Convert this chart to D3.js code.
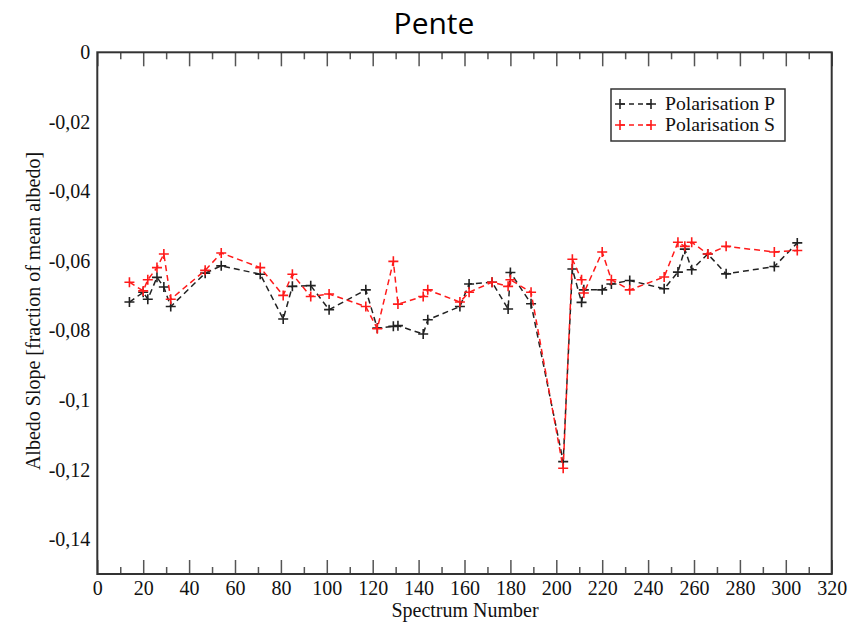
<!DOCTYPE html>
<html>
<head>
<meta charset="utf-8">
<script src="https://cdn.jsdelivr.net/npm/d3@7"></script>
<style>
  html, body { margin: 0; padding: 0; background: #fff; }
  svg { display: block; }
</style>
</head>
<body>
<svg id="chart" width="860" height="623"></svg>
<script>
// Spectrum numbers shared by both polarisations
const spectra = [14, 20, 22, 26, 29, 32, 47, 54, 71, 81, 85, 93, 101, 117, 122, 129, 131, 142, 144, 158,
                 162, 172, 179, 180, 189, 203, 207, 211, 212, 220, 224, 232, 247, 253, 256, 259, 266, 274, 295, 305];

// Albedo slope, polarisation P
const slopeP = [-0.0718, -0.0690, -0.0710, -0.0647, -0.0675, -0.0731, -0.0635, -0.0614, -0.0638, -0.0767,
                -0.0673, -0.0671, -0.0740, -0.0683, -0.0793, -0.0788, -0.0786, -0.0810, -0.0769, -0.0731,
                -0.0666, -0.0661, -0.0738, -0.0633, -0.0723, -0.1177, -0.0623, -0.0719, -0.0683, -0.0683,
                -0.0666, -0.0656, -0.0680, -0.0632, -0.0566, -0.0625, -0.0580, -0.0637, -0.0616, -0.0548];

// Albedo slope, polarisation S
const slopeS = [-0.0661, -0.0686, -0.0654, -0.0619, -0.0580, -0.0710, -0.0627, -0.0577, -0.0619, -0.0699,
                -0.0638, -0.0702, -0.0695, -0.0731, -0.0795, -0.0601, -0.0724, -0.0702, -0.0683, -0.0718,
                -0.0690, -0.0661, -0.0673, -0.0654, -0.0690, -0.1196, -0.0595, -0.0654, -0.0692, -0.0574,
                -0.0654, -0.0683, -0.0646, -0.0546, -0.0558, -0.0546, -0.0580, -0.0558, -0.0574, -0.0570];

const xMajorTicks = d3.range(0, 321, 20);
const xMinorTicks = d3.range(10, 320, 20);
const yTicks = [0, -0.02, -0.04, -0.06, -0.08, -0.1, -0.12, -0.14];

const seriesNames = ["Polarisation P", "Polarisation S"];
const seriesColors = ["#222222", "#ff1a1a"];

const svg = d3.select("#chart");
const plotLeft = 97.3, plotRight = 831.7, plotTop = 52.3, plotBottom = 574;

const x = d3.scaleLinear().domain([0, 320]).range([plotLeft, plotRight]);
const y = d3.scaleLinear().domain([-0.15, 0]).range([plotBottom, plotTop]);

const serif = "'Liberation Serif', 'DejaVu Serif', serif";
const fontSize = 20;
const fmt = v => v === 0 ? "0" : String(+v.toFixed(2)).replace(".", ",");

// Title
svg.append("text")
  .attr("x", 434).attr("y", 34)
  .attr("text-anchor", "middle")
  .attr("font-family", "'Open Sans', sans-serif")
  .attr("font-size", 30)
  .attr("fill", "#000")
  .text("Pente");

function styleTicks(g) {
  g.select(".domain").remove();
  g.selectAll(".tick line").attr("stroke", "#555").attr("stroke-width", 1.5);
}

// Bottom axis: ticks point inwards, labels below
const gxb = svg.append("g").attr("transform", `translate(0,${plotBottom})`)
  .call(d3.axisBottom(x).tickValues(xMajorTicks).tickSizeInner(-14).tickSizeOuter(0).tickPadding(7).tickFormat(d3.format("d")));
styleTicks(gxb);
gxb.selectAll(".tick text").attr("font-family", serif).attr("font-size", fontSize).attr("fill", "#111");

styleTicks(svg.append("g").attr("transform", `translate(0,${plotBottom})`)
  .call(d3.axisBottom(x).tickValues(xMinorTicks).tickSizeInner(-7).tickSizeOuter(0).tickFormat("")));

// Top axis: ticks only
styleTicks(svg.append("g").attr("transform", `translate(0,${plotTop})`)
  .call(d3.axisTop(x).tickValues(xMajorTicks).tickSizeInner(-14).tickSizeOuter(0).tickFormat("")));
styleTicks(svg.append("g").attr("transform", `translate(0,${plotTop})`)
  .call(d3.axisTop(x).tickValues(xMinorTicks).tickSizeInner(-7).tickSizeOuter(0).tickFormat("")));

// Left axis: labels only
const gy = svg.append("g").attr("transform", `translate(${plotLeft},0)`)
  .call(d3.axisLeft(y).tickValues(yTicks).tickSize(0).tickPadding(7).tickFormat(fmt));
gy.select(".domain").remove();
gy.selectAll(".tick text").attr("font-family", serif).attr("font-size", fontSize).attr("fill", "#111");

// Frame
svg.append("rect")
  .attr("x", plotLeft).attr("y", plotTop)
  .attr("width", plotRight - plotLeft).attr("height", plotBottom - plotTop)
  .attr("fill", "none").attr("stroke", "#333").attr("stroke-width", 2);

// Axis titles
svg.append("text")
  .attr("x", 465).attr("y", 617)
  .attr("text-anchor", "middle")
  .attr("font-family", serif).attr("font-size", fontSize).attr("fill", "#111")
  .text("Spectrum Number");

svg.append("text")
  .attr("transform", "translate(40,311) rotate(-90)")
  .attr("text-anchor", "middle")
  .attr("font-family", serif).attr("font-size", fontSize).attr("fill", "#111")
  .text("Albedo Slope [fraction of mean albedo]");

// Series
const series = [slopeP, slopeS].map((vals, i) => ({
  name: seriesNames[i],
  color: seriesColors[i],
  points: spectra.map((s, j) => ({ s, v: vals[j] }))
}));

const line = d3.line().x(d => x(d.s)).y(d => y(d.v));

function drawPlus(g, cx, cy, color) {
  g.append("path")
    .attr("d", `M${cx - 5},${cy}H${cx + 5}M${cx},${cy - 5}V${cy + 5}`)
    .attr("stroke", color).attr("stroke-width", 1.6).attr("fill", "none");
}

series.forEach(sr => {
  const g = svg.append("g");
  g.append("path")
    .datum(sr.points)
    .attr("d", line)
    .attr("fill", "none")
    .attr("stroke", sr.color)
    .attr("stroke-width", 1.5)
    .attr("stroke-dasharray", "6,4");
  sr.points.forEach(p => drawPlus(g, x(p.s), y(p.v), sr.color));
});

// Legend
const lg = svg.append("g");
lg.append("rect")
  .attr("x", 611).attr("y", 89).attr("width", 174).attr("height", 52)
  .attr("fill", "#fff").attr("stroke", "#333").attr("stroke-width", 1.5);
series.forEach((sr, i) => {
  const ly = 104 + i * 21;
  lg.append("line")
    .attr("x1", 620).attr("x2", 651).attr("y1", ly).attr("y2", ly)
    .attr("stroke", sr.color).attr("stroke-width", 1.3).attr("stroke-dasharray", "5,4");
  drawPlus(lg, 620, ly, sr.color);
  drawPlus(lg, 651, ly, sr.color);
  lg.append("text")
    .attr("x", 665).attr("y", ly + 6)
    .attr("font-family", serif).attr("font-size", 18).attr("fill", "#111")
    .attr("textLength", 110).attr("lengthAdjust", "spacingAndGlyphs")
    .text(sr.name);
});
</script>
</body>
</html>
